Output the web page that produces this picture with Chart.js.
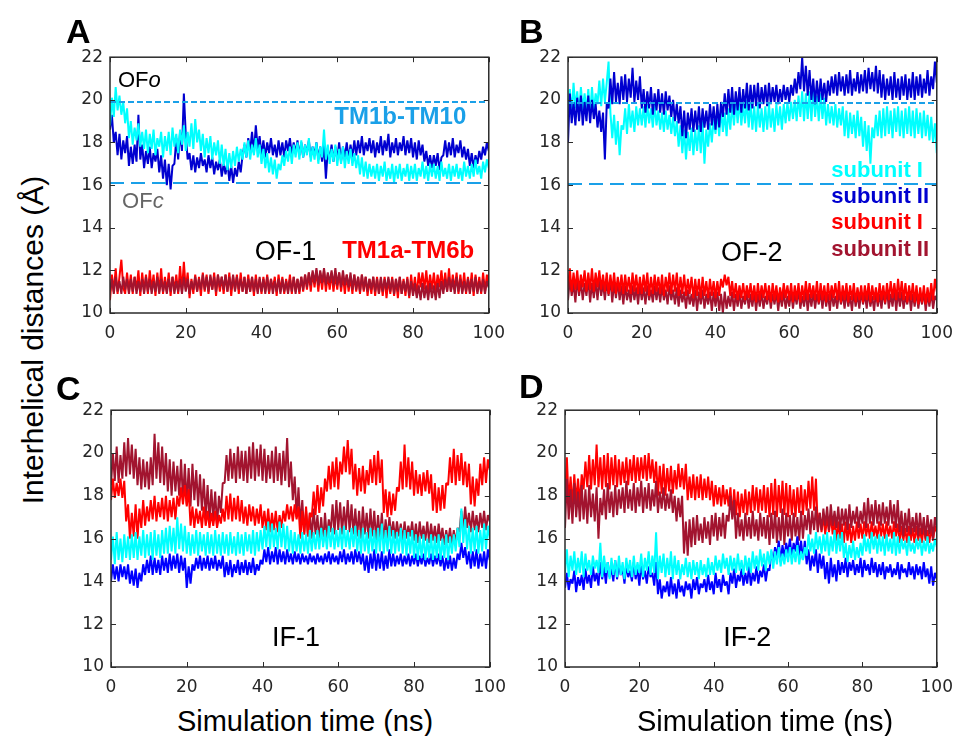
<!DOCTYPE html>
<html>
<head>
<meta charset="utf-8">
<script src="https://cdn.jsdelivr.net/npm/chart.js@4.4.1/dist/chart.umd.min.js"></script>
<style>
  body { margin: 0; background: #fff; }
  #fig { position: relative; width: 963px; height: 736px; overflow: hidden; font-family: "Liberation Sans", Arial, sans-serif; }
  #fig canvas { position: absolute; }
  .letter { position: absolute; font-weight: bold; font-size: 34px; line-height: 1; color: #000; }
  .xtitle { position: absolute; width: 400px; text-align: center; font-size: 29px; line-height: 1; color: #000; white-space: nowrap; }
  .ytitle { position: absolute; width: 420px; height: 30px; left: -177px; top: 325px; text-align: center; font-size: 30px; line-height: 30px; color: #000; white-space: nowrap; transform: rotate(-90deg); }
</style>
</head>
<body>
<div id="fig">
  <canvas id="cA" width="460" height="310" style="left:55px;top:40px"></canvas>
  <canvas id="cB" width="450" height="310" style="left:513px;top:40px"></canvas>
  <canvas id="cC" width="460" height="311" style="left:56px;top:393px"></canvas>
  <canvas id="cD" width="453" height="311" style="left:510px;top:393px"></canvas>
  <div class="letter" style="left:66px;top:14px">A</div>
  <div class="letter" style="left:519px;top:14px">B</div>
  <div class="letter" style="left:56px;top:371px">C</div>
  <div class="letter" style="left:519px;top:369px">D</div>
  <div class="ytitle">Interhelical distances (Å)</div>
  <div class="xtitle" style="left:105px;top:707px">Simulation time (ns)</div>
  <div class="xtitle" style="left:565px;top:707px">Simulation time (ns)</div>
</div>
<script>
// sampling every 0.5 ns, 0..100 ns
const time = Array.from({length: 201}, (_, i) => i * 0.5);
const xTicks = [0, 20, 40, 60, 80, 100];
const yTicks = [10, 12, 14, 16, 18, 20, 22];

// A: OF-1
const aCyan = [
  18.8,20.1,19.2,20.6,19.5,20.2,19.3,19.9,18.9,19.6,
  18.2,19.0,17.9,18.7,18.1,18.9,17.8,18.5,17.7,18.6,
  17.5,18.4,17.7,18.6,17.4,18.2,17.8,18.5,17.3,18.3,
  17.6,18.5,17.4,18.7,17.8,18.4,17.5,18.6,17.9,18.8,
  17.6,18.5,17.8,18.9,17.7,19.1,18.0,18.6,17.6,18.4,
  17.3,18.2,17.5,18.3,17.2,18.0,17.4,18.1,17.0,17.9,
  16.9,17.7,16.7,17.5,16.8,17.6,16.9,17.8,17.1,17.7,
  17.2,18.0,17.3,18.1,17.2,17.9,17.4,18.2,17.3,17.9,
  17.0,17.7,16.8,17.5,16.6,17.3,16.5,17.2,16.3,17.0,
  16.7,17.4,16.9,17.6,17.1,17.8,17.0,17.9,17.3,18.0,
  17.2,18.1,17.3,17.9,17.4,18.2,17.1,17.8,17.2,18.0,
  17.0,17.8,17.3,18.6,17.2,17.9,17.0,17.7,17.1,17.9,
  16.9,17.7,17.0,17.8,16.8,17.6,17.0,17.7,16.9,17.5,
  16.8,17.4,16.5,17.3,16.4,17.1,16.3,17.0,16.4,16.9,
  16.3,17.0,16.2,16.9,16.4,17.1,16.2,16.8,16.3,17.0,
  16.1,16.9,16.3,17.0,16.2,16.8,16.4,17.0,16.2,16.9,
  16.3,17.0,16.2,16.8,16.4,17.1,16.3,16.9,16.2,17.0,
  16.4,17.0,16.3,16.9,16.2,17.1,16.4,16.8,16.3,17.0,
  16.2,16.9,16.4,17.0,16.3,16.8,16.2,17.1,16.4,16.9,
  16.3,17.0,16.4,17.2,16.5,16.9,16.3,17.1,16.6,17.2,
  16.8
];
const aBlue = [
  18.6,19.3,18.0,18.5,17.4,18.4,17.2,18.1,17.5,18.3,
  16.9,17.8,17.0,17.9,17.1,19.3,17.2,17.9,16.8,17.6,
  17.0,17.8,16.8,17.5,17.1,17.7,16.6,17.4,16.3,17.2,
  16.0,17.0,15.8,16.9,17.0,18.2,17.2,18.5,17.6,20.3,
  18.4,17.2,17.5,16.7,17.4,16.6,17.3,16.8,17.5,16.9,
  17.2,16.6,17.4,16.8,17.3,16.5,17.1,16.7,17.2,16.4,
  17.0,16.5,17.1,16.2,16.9,16.1,16.8,16.4,17.1,16.6,
  17.4,17.9,17.3,18.2,17.6,18.5,17.5,18.8,17.7,18.3,
  17.4,18.1,17.3,18.0,17.5,18.2,17.4,17.9,17.3,18.1,
  17.4,18.0,17.3,18.1,17.6,18.2,17.4,18.0,17.5,18.1,
  17.4,18.0,17.3,17.9,17.5,18.1,17.3,17.8,17.4,18.0,
  17.2,17.8,17.1,17.9,16.3,17.7,17.2,17.9,17.1,17.8,
  17.2,18.0,17.1,17.8,17.3,18.0,17.2,17.9,17.3,18.1,
  17.4,18.1,17.5,18.3,17.4,18.0,17.6,18.2,17.5,18.1,
  17.3,18.0,17.5,18.3,17.4,18.1,17.6,18.4,17.3,18.0,
  17.5,18.2,17.4,18.0,17.6,18.3,17.4,18.1,17.5,18.2,
  17.3,18.0,17.2,18.1,17.4,17.9,17.1,17.6,16.9,17.4,
  16.8,17.4,16.9,17.5,16.7,17.3,17.4,18.1,17.3,18.0,
  17.4,18.2,17.3,17.9,17.5,18.1,17.3,17.8,17.2,17.7,
  16.9,17.5,16.8,17.4,17.0,17.6,17.2,17.8,17.4,18.0,
  17.6
];
const aRed = [
  10.6,11.8,11.0,12.1,10.9,11.7,12.5,11.2,10.9,11.9,
  11.0,11.8,10.9,11.7,11.1,12.0,10.8,11.9,11.0,11.8,
  10.9,12.0,11.1,11.8,10.8,11.9,11.0,12.1,10.9,11.7,
  11.0,11.9,10.8,11.7,11.1,11.8,10.9,12.2,11.0,12.4,
  11.1,11.9,10.7,11.6,10.9,11.8,11.0,11.7,10.8,11.9,
  11.0,11.8,10.9,11.7,11.1,11.9,10.8,11.8,11.0,11.7,
  10.9,11.8,11.0,11.9,10.8,11.7,11.1,11.8,10.9,11.9,
  11.0,11.7,10.9,11.8,11.0,11.7,10.8,11.8,11.0,11.6,
  10.9,11.7,11.0,11.8,10.9,11.6,11.1,11.7,10.8,11.8,
  11.0,11.7,10.9,11.6,11.0,11.8,10.9,11.7,11.0,11.6,
  10.9,11.7,11.0,11.8,11.1,11.9,11.0,11.9,11.2,12.0,
  11.0,11.9,11.1,12.0,11.0,11.8,11.1,11.9,11.0,11.8,
  11.1,11.9,11.0,11.8,10.9,11.8,11.0,11.7,10.9,11.8,
  11.0,11.7,10.9,11.8,11.0,11.7,10.8,11.6,10.9,11.7,
  10.8,11.7,10.9,11.6,10.8,11.7,10.7,11.6,10.9,11.7,
  10.8,11.6,10.7,11.7,10.9,11.6,10.8,11.7,10.7,11.8,
  10.9,11.7,10.8,11.9,11.2,11.9,11.1,12.0,11.0,11.8,
  11.1,11.9,11.0,11.8,11.2,12.0,11.1,11.9,11.0,12.1,
  11.0,11.8,11.1,11.9,10.9,11.8,11.0,11.9,10.9,11.7,
  11.0,11.9,10.8,11.8,11.0,11.7,10.9,11.9,11.0,11.8,
  11.2
];
const aMaroon = [
  11.0,11.6,10.9,11.7,11.0,11.5,10.9,11.7,11.1,11.6,
  10.9,11.6,11.0,11.7,10.9,11.5,11.0,11.6,10.9,11.7,
  11.0,11.6,10.9,11.5,11.0,11.7,10.9,11.6,11.0,11.5,
  10.9,11.6,11.0,11.7,10.9,11.5,11.0,11.6,10.9,11.7,
  11.0,11.6,10.9,11.5,11.1,11.7,11.0,11.6,11.1,11.8,
  11.1,11.7,11.0,11.8,11.1,11.7,11.0,11.8,11.2,11.7,
  11.1,11.8,11.0,11.7,11.1,11.8,11.0,11.7,11.1,11.6,
  11.0,11.7,10.9,11.6,11.0,11.7,11.0,11.6,10.9,11.7,
  11.0,11.6,10.9,11.7,11.0,11.6,10.9,11.5,11.0,11.6,
  10.9,11.6,11.0,11.5,10.9,11.6,11.0,11.7,10.9,11.6,
  11.0,11.7,11.1,11.8,11.2,11.9,11.3,12.0,11.4,12.1,
  11.3,12.0,11.4,12.1,11.3,11.9,11.4,12.0,11.3,12.1,
  11.3,11.9,11.2,12.0,11.3,11.8,11.2,11.9,11.1,11.8,
  11.1,11.7,11.0,11.8,11.1,11.7,11.0,11.6,11.1,11.7,
  11.0,11.6,10.9,11.7,11.0,11.6,11.1,11.7,11.0,11.6,
  10.9,11.6,11.0,11.7,10.9,11.5,11.0,11.6,10.8,11.5,
  10.8,11.4,10.7,11.3,10.6,11.4,10.7,11.3,10.6,11.4,
  10.7,11.3,10.6,11.4,10.7,11.5,10.9,11.6,11.0,11.7,
  11.0,11.6,10.9,11.7,11.0,11.6,10.9,11.5,11.0,11.6,
  10.9,11.6,11.0,11.7,10.9,11.5,11.0,11.6,10.9,11.5,
  11.2
];

// B: OF-2
const bCyan = [
  19.4,20.5,19.3,20.8,19.6,20.4,19.3,20.6,19.5,20.3,
  19.4,20.5,19.3,20.6,19.5,20.3,19.8,20.9,19.7,21.0,
  19.9,20.8,21.8,19.4,18.2,19.3,17.9,19.0,17.4,18.8,
  18.6,19.6,18.4,19.8,18.7,19.5,18.5,19.7,18.8,19.6,
  18.8,19.7,18.7,19.8,18.9,19.6,18.7,19.8,18.8,19.5,
  18.6,19.4,18.5,19.5,18.6,19.3,18.4,19.2,18.3,19.0,
  17.8,18.8,17.5,18.6,17.2,18.5,17.6,18.7,17.4,18.6,
  17.6,18.8,17.5,19.0,17.0,18.6,17.8,18.9,18.0,19.1,
  18.4,19.5,18.3,19.6,18.5,19.4,18.3,19.6,18.6,19.8,
  18.8,19.9,18.9,20.0,18.8,19.8,18.9,20.0,18.7,19.9,
  18.6,19.7,18.5,19.8,18.7,19.6,18.5,19.7,18.6,19.8,
  18.7,19.6,18.5,19.8,18.8,19.7,18.6,19.8,18.9,19.9,
  19.0,19.9,19.1,20.0,19.0,20.2,19.2,20.4,19.0,20.3,
  19.1,20.4,19.0,20.5,19.2,20.2,19.0,20.3,19.1,20.1,
  18.8,19.8,18.9,19.7,18.8,19.8,18.7,19.6,18.8,19.7,
  18.3,19.5,18.2,19.4,18.4,19.3,18.2,19.5,18.3,19.2,
  17.8,19.0,17.6,18.8,17.0,18.7,18.2,19.3,18.3,19.5,
  18.2,19.6,18.3,19.7,18.4,19.5,18.2,19.6,18.5,19.7,
  18.3,19.5,18.2,19.6,18.4,19.7,18.3,19.5,18.2,19.6,
  18.4,19.4,18.2,19.5,18.3,19.3,18.1,19.2,18.0,18.9,
  17.5
];
const bBlue = [
  18.0,20.3,18.9,19.9,18.8,20.1,19.0,20.2,18.8,19.9,
  19.0,20.2,18.9,20.0,19.1,19.8,18.7,19.5,18.5,19.4,
  17.2,19.8,19.6,21.0,19.8,21.3,19.9,20.8,19.8,21.1,
  20.0,21.2,19.9,21.0,20.1,21.5,19.9,20.9,20.0,21.1,
  19.6,20.5,19.4,20.4,19.6,20.6,19.3,20.3,19.5,20.5,
  19.4,20.3,19.3,20.4,19.5,20.2,19.2,20.0,19.0,19.8,
  18.9,19.7,18.3,19.5,18.2,19.4,18.6,19.6,18.5,19.5,
  18.6,19.7,18.5,19.6,18.7,19.5,18.6,19.8,18.8,19.7,
  18.6,19.8,18.7,19.9,19.2,20.3,19.3,20.5,19.4,20.6,
  19.3,20.4,19.5,20.6,19.4,20.5,19.6,20.8,19.5,20.7,
  19.6,20.7,19.7,20.8,19.6,20.6,19.8,20.7,19.7,20.8,
  19.8,20.6,19.9,20.7,19.8,20.5,19.9,20.7,20.0,20.6,
  19.9,20.7,20.2,21.0,20.3,21.3,20.5,22.0,20.4,21.6,
  20.2,21.4,20.0,21.0,19.8,20.9,19.9,21.0,20.0,20.8,
  19.9,20.9,20.2,21.1,20.3,21.2,20.2,21.3,20.4,21.1,
  20.2,21.2,20.3,21.4,20.2,21.0,20.4,21.3,20.3,21.2,
  20.4,21.4,20.3,21.5,20.5,21.3,20.4,21.6,20.3,21.4,
  20.1,21.2,20.0,21.0,20.2,21.1,20.0,21.3,20.1,21.0,
  20.0,21.1,20.2,21.2,20.0,21.0,20.1,21.3,20.0,21.1,
  20.2,21.2,20.1,21.0,20.3,21.4,20.2,21.1,20.5,21.8,
  20.8
];
const bRed = [
  11.2,12.1,11.0,11.9,11.1,12.0,11.0,11.8,11.2,12.0,
  11.0,11.9,11.1,12.1,11.0,11.9,11.2,12.0,11.1,11.8,
  11.0,11.9,10.9,11.8,11.0,11.9,10.9,11.7,11.0,11.8,
  10.9,11.8,11.0,11.7,10.9,11.9,11.0,11.8,10.9,11.7,
  10.9,11.8,11.0,11.9,10.8,11.7,10.9,11.8,11.0,11.7,
  10.9,11.8,10.8,11.7,11.0,11.9,10.9,11.8,11.0,11.9,
  10.8,11.7,10.9,11.8,10.8,11.6,10.9,11.7,10.7,11.6,
  10.8,11.6,10.7,11.7,10.8,11.5,10.7,11.6,10.8,11.5,
  10.7,11.5,10.8,11.6,11.2,11.8,11.3,11.7,10.8,11.5,
  10.7,11.4,10.6,11.3,10.7,11.4,10.6,11.3,10.7,11.4,
  10.6,11.3,10.5,11.4,10.6,11.3,10.7,11.4,10.6,11.3,
  10.5,11.4,10.6,11.3,10.5,11.2,10.6,11.4,10.7,11.3,
  10.6,11.4,10.5,11.3,10.6,11.4,10.5,11.3,10.6,11.5,
  10.6,11.4,10.7,11.3,10.6,11.5,10.5,11.4,10.6,11.3,
  10.5,11.4,10.6,11.3,10.7,11.4,10.6,11.5,10.5,11.3,
  10.6,11.4,10.5,11.3,10.6,11.4,10.5,11.2,10.6,11.3,
  10.5,11.3,10.6,11.4,10.5,11.3,10.6,11.2,10.5,11.4,
  10.6,11.3,10.5,11.4,10.6,11.5,10.7,11.4,10.6,11.6,
  10.7,11.5,10.6,11.4,10.5,11.3,10.6,11.4,10.5,11.3,
  10.4,11.2,10.5,11.3,10.4,11.2,10.5,11.4,10.6,11.6,
  11.0
];
const bMaroon = [
  10.6,11.6,10.8,11.4,10.5,11.6,10.8,11.5,10.6,11.4,
  10.8,11.6,10.5,11.4,10.7,11.5,10.6,11.6,10.8,11.4,
  10.6,11.5,10.8,11.6,10.5,11.4,10.7,11.5,10.6,11.3,
  10.4,11.3,10.6,11.1,10.5,11.3,10.6,11.2,10.4,11.3,
  10.6,11.2,10.4,11.3,10.6,11.1,10.5,11.3,10.6,11.2,
  10.5,11.3,10.6,11.1,10.4,11.3,10.6,11.1,10.4,11.2,
  10.3,11.1,10.5,11.0,10.2,11.1,10.4,10.9,10.3,11.1,
  10.1,11.0,10.4,11.1,10.2,10.9,10.4,11.0,10.1,11.0,
  10.3,11.0,10.1,10.9,10.0,11.0,10.2,10.8,10.3,11.0,
  10.1,10.9,10.3,11.0,10.2,10.8,10.4,11.0,10.2,10.9,
  10.3,11.0,10.1,10.9,10.3,11.0,10.2,10.8,10.4,11.0,
  10.2,10.9,10.4,11.0,10.1,10.9,10.3,11.0,10.2,10.8,
  10.3,11.0,10.2,10.9,10.4,11.1,10.2,10.8,10.3,11.0,
  10.1,10.9,10.3,11.0,10.2,10.9,10.4,11.0,10.2,11.0,
  10.3,10.9,10.1,11.0,10.3,10.8,10.2,11.0,10.4,10.9,
  10.2,11.0,10.3,10.8,10.1,11.0,10.3,10.9,10.2,11.0,
  10.4,10.9,10.2,11.0,10.3,10.8,10.1,11.0,10.3,10.9,
  10.2,11.0,10.4,11.1,10.2,10.9,10.3,11.1,10.1,11.0,
  10.3,11.0,10.2,10.8,10.4,11.0,10.1,10.9,10.3,11.0,
  10.2,10.9,10.4,11.0,10.1,10.9,10.3,11.0,10.2,10.8,
  10.6
];

// C: IF-1
const cMaroon = [
  18.5,20.0,18.7,20.3,18.6,19.9,18.8,20.5,18.9,20.7,
  19.0,20.4,18.8,20.2,18.5,19.8,18.3,19.7,18.4,19.6,
  18.3,19.8,18.5,20.9,18.8,20.5,18.6,20.3,18.5,20.0,
  18.2,19.7,18.0,19.6,18.2,19.4,18.0,19.7,17.8,19.5,
  17.6,19.3,17.5,19.5,17.8,19.2,17.5,19.0,17.3,18.8,
  17.0,18.5,16.8,18.3,16.9,18.2,16.6,18.0,17.2,18.6,
  18.6,19.9,18.7,20.2,18.8,20.0,18.6,20.3,18.8,20.1,
  18.7,20.1,18.6,20.3,18.8,20.5,18.7,20.2,18.9,20.4,
  18.7,20.2,18.6,19.9,18.8,20.1,18.6,20.3,18.7,20.0,
  18.5,20.1,18.7,20.7,18.4,19.6,17.8,18.9,17.0,18.4,
  16.6,17.8,16.2,17.3,16.1,17.2,16.0,17.4,16.2,17.1,
  15.9,17.0,15.8,17.2,16.0,16.9,16.3,17.6,16.2,17.8,
  16.4,17.7,16.2,17.5,16.4,17.8,16.3,17.6,16.2,17.4,
  16.1,17.3,16.0,17.5,16.2,17.2,16.0,17.4,16.1,17.3,
  15.9,17.1,16.0,17.2,15.8,16.9,16.0,17.0,16.1,16.8,
  16.0,16.8,16.1,16.7,15.9,16.8,16.0,16.6,16.1,16.8,
  15.9,16.7,15.8,16.8,16.0,16.6,15.9,16.8,15.8,16.7,
  15.9,16.6,15.8,16.7,15.9,16.5,15.7,16.4,15.8,16.5,
  15.7,16.4,15.8,16.5,16.3,17.3,16.4,17.5,16.5,17.2,
  16.3,17.3,16.4,17.1,16.3,17.2,16.5,17.3,16.4,17.1,
  16.8
];
const cRed = [
  17.8,18.8,17.9,18.6,18.0,18.8,17.9,18.7,16.8,17.6,
  16.0,17.2,16.1,17.6,16.0,17.4,16.5,17.8,16.6,17.5,
  16.8,17.8,16.9,18.0,16.8,17.7,17.0,17.9,16.9,18.0,
  16.8,17.8,17.0,17.9,16.9,18.0,17.5,18.4,17.6,18.5,
  17.5,18.3,16.6,17.5,16.5,17.4,16.7,17.3,16.5,17.5,
  16.6,17.3,16.5,17.2,16.6,17.3,16.5,17.1,16.7,17.4,
  16.8,18.0,16.9,18.1,16.8,17.9,16.9,18.0,16.8,17.8,
  16.7,17.5,16.6,17.6,16.8,17.5,16.6,17.4,16.7,17.6,
  16.5,17.3,16.4,17.4,16.3,17.2,16.4,17.3,16.3,17.1,
  16.5,17.3,16.8,17.6,16.9,17.5,16.8,17.6,16.9,17.5,
  16.0,17.3,16.2,17.5,16.1,17.2,17.0,18.2,17.1,18.5,
  17.2,18.4,17.5,18.8,18.2,19.4,18.3,19.6,18.4,19.8,
  18.3,19.6,19.0,20.3,19.1,20.6,19.0,20.2,18.3,19.5,
  18.0,19.3,18.2,19.4,18.1,19.2,18.5,19.7,18.6,19.9,
  18.5,20.1,18.6,19.7,17.2,18.3,17.0,18.2,17.1,18.1,
  17.3,18.4,18.2,19.6,18.3,20.4,18.4,19.8,18.3,19.6,
  18.0,19.2,18.1,19.0,18.0,19.1,18.2,19.2,18.1,19.0,
  17.3,18.6,17.2,18.4,17.3,18.5,17.4,18.6,18.5,19.8,
  18.6,20.2,18.5,19.9,18.7,20.0,18.5,19.6,18.4,19.5,
  17.6,18.9,17.5,18.8,18.0,19.5,18.5,19.8,18.6,19.7,
  19.2
];
const cCyan = [
  15.0,16.1,14.8,16.3,15.0,16.0,14.9,16.2,15.1,16.1,
  15.0,16.2,15.1,16.3,15.0,16.1,15.2,16.4,15.1,16.2,
  15.2,16.3,15.0,16.4,15.2,16.2,15.1,16.4,15.3,16.5,
  15.3,16.6,15.4,16.5,15.3,17.0,15.5,16.7,15.4,16.6,
  15.3,16.3,15.2,16.2,15.3,16.4,15.2,16.3,15.4,16.2,
  15.2,16.3,15.3,16.2,15.2,16.4,15.3,16.2,15.2,16.3,
  15.3,16.2,15.2,16.3,15.3,16.1,15.2,16.3,15.3,16.2,
  15.2,16.3,15.4,16.2,15.3,16.4,15.2,16.3,15.4,16.4,
  15.5,16.6,15.6,16.8,15.5,16.7,15.6,16.5,15.5,16.8,
  15.6,16.7,15.5,16.6,15.4,16.4,15.3,16.3,15.4,16.2,
  15.3,16.3,15.4,16.2,15.3,16.4,15.4,16.3,15.5,16.4,
  15.5,16.5,15.6,16.4,15.5,16.6,15.6,16.5,15.5,16.4,
  15.6,16.5,15.5,16.6,15.6,16.4,15.5,16.5,15.6,16.6,
  15.4,16.4,15.3,16.5,15.4,16.3,15.3,16.5,15.4,16.4,
  15.3,16.5,15.4,16.7,15.3,16.4,15.4,16.6,15.3,16.4,
  15.3,16.3,15.4,16.5,15.3,16.4,15.2,16.3,15.3,16.4,
  15.1,16.2,15.0,16.1,15.1,16.2,15.0,16.0,15.1,16.2,
  15.0,16.1,15.1,16.2,15.0,16.0,15.1,16.2,15.0,16.1,
  15.3,16.2,15.4,16.5,15.6,17.4,15.8,16.9,15.5,16.6,
  15.3,16.5,15.4,16.6,15.3,16.4,15.4,16.7,15.5,16.6,
  16.0
];
const cBlue = [
  14.0,14.8,14.1,14.7,14.0,14.8,14.2,14.7,14.1,14.8,
  13.9,14.5,13.8,14.6,13.7,14.4,14.0,14.8,14.3,15.0,
  14.4,15.2,14.3,15.1,14.4,15.0,14.3,15.2,14.5,15.1,
  14.4,15.3,14.5,15.2,14.6,15.3,14.4,15.2,14.5,15.1,
  13.7,14.7,13.9,14.8,14.5,15.1,14.6,15.2,14.5,15.1,
  14.6,15.2,14.5,15.1,14.6,15.2,14.5,15.0,14.6,15.2,
  14.2,14.9,14.3,15.0,14.2,14.8,14.4,15.0,14.3,14.9,
  14.4,15.0,14.3,14.9,14.4,15.1,14.3,14.8,14.5,15.0,
  14.8,15.5,14.9,15.6,14.8,15.4,14.9,15.6,14.8,15.5,
  14.9,15.4,14.8,15.5,14.9,15.3,14.8,15.4,14.9,15.3,
  14.8,15.3,14.9,15.2,14.8,15.3,14.9,15.2,14.8,15.3,
  14.9,15.2,14.8,15.3,14.9,15.4,14.8,15.3,14.9,15.2,
  14.8,15.4,14.9,15.5,14.8,15.3,14.9,15.4,14.8,15.5,
  14.9,15.4,14.8,15.3,14.5,15.2,14.4,15.3,14.6,15.5,
  14.5,15.3,14.6,15.4,14.5,15.2,14.6,15.5,14.7,15.3,
  14.7,15.2,14.8,15.3,14.7,15.2,14.8,15.3,14.7,15.2,
  14.8,15.3,14.7,15.2,14.8,15.3,14.7,15.1,14.8,15.3,
  14.7,15.2,14.8,15.3,14.7,15.2,14.5,15.1,14.6,15.2,
  14.5,15.1,14.6,15.3,15.0,15.8,15.1,15.6,14.8,15.4,
  14.6,15.4,14.7,15.5,14.6,15.3,14.7,15.4,14.6,15.5,
  15.0
];

// D: IF-2
const dRed = [
  17.8,19.8,17.6,18.9,17.5,19.0,17.7,18.8,17.6,19.0,
  18.3,19.6,18.4,19.9,18.3,19.7,18.5,20.4,18.4,19.8,
  18.3,19.9,18.4,20.0,18.3,19.8,18.5,19.9,18.4,19.7,
  18.5,19.6,18.6,19.8,18.5,19.7,18.7,19.9,18.6,19.8,
  18.7,19.8,18.8,19.9,18.7,20.0,18.8,19.7,18.6,19.6,
  18.0,19.4,18.1,19.5,18.0,19.3,18.2,19.4,18.1,19.2,
  18.3,19.5,18.4,19.3,18.3,19.5,17.8,18.9,17.9,19.0,
  17.8,18.9,17.9,19.0,17.8,18.8,17.9,18.9,17.8,18.7,
  17.5,18.5,17.6,18.4,17.5,18.5,17.6,18.3,17.5,18.4,
  17.0,18.3,17.1,18.2,17.0,18.1,17.2,18.3,17.1,18.2,
  17.2,18.5,17.3,18.4,17.2,18.3,17.3,18.5,17.2,18.4,
  17.0,18.6,17.1,18.8,17.0,18.5,17.2,18.7,17.1,18.6,
  17.0,18.5,17.1,18.3,17.0,18.4,17.2,18.5,17.1,18.3,
  17.3,18.7,17.4,18.9,17.3,18.8,16.4,17.2,16.3,17.1,
  16.2,17.0,16.3,17.1,16.2,16.9,15.9,16.8,16.0,16.7,
  15.8,16.8,15.9,16.7,15.8,16.6,15.9,16.8,16.0,16.7,
  16.0,16.8,16.1,16.7,16.0,16.8,16.1,16.6,16.0,16.8,
  16.1,16.7,16.0,16.8,16.1,16.6,16.0,16.8,16.1,16.7,
  15.8,16.6,15.9,16.5,15.8,16.6,15.9,16.5,15.8,16.6,
  15.9,16.5,15.8,16.6,15.9,16.4,15.8,16.5,15.9,16.6,
  16.3
];
const dMaroon = [
  16.5,18.8,16.9,18.3,16.7,18.6,17.0,18.2,16.8,18.5,
  16.9,18.3,16.7,18.5,17.0,18.1,16.8,18.4,16.0,17.9,
  17.1,18.3,16.9,18.6,17.2,18.2,17.0,18.5,17.1,18.3,
  17.4,18.4,17.2,18.7,17.4,18.3,17.3,18.6,17.2,18.4,
  17.5,18.7,17.2,18.4,17.4,18.6,17.3,18.3,17.5,18.7,
  17.2,18.2,17.4,18.4,17.3,18.1,17.4,18.3,17.2,18.0,
  16.8,17.9,17.0,18.0,15.3,16.8,15.2,16.9,15.6,17.0,
  15.7,17.1,15.9,16.7,15.8,17.0,16.0,16.8,15.7,17.1,
  16.1,17.2,15.9,17.0,16.1,17.2,16.0,17.1,16.8,18.0,
  16.9,17.8,16.0,17.2,16.1,16.9,15.9,17.2,16.1,17.0,
  16.0,17.3,16.1,16.9,15.9,17.2,16.1,17.0,16.0,17.1,
  15.7,17.2,16.0,17.3,15.8,17.0,15.9,17.4,15.7,17.2,
  16.1,17.1,15.9,17.2,16.1,17.0,15.9,17.3,16.0,17.1,
  16.4,17.4,16.2,17.3,16.4,17.5,16.3,17.2,16.4,17.4,
  16.6,17.5,16.4,17.6,16.6,17.3,16.5,17.5,16.4,17.4,
  16.6,17.4,16.4,17.6,16.5,17.3,16.7,17.5,16.5,17.3,
  16.7,17.7,16.5,17.9,16.7,17.6,16.6,17.8,16.7,17.6,
  16.6,17.7,16.7,17.5,16.6,17.8,16.7,17.6,16.5,17.8,
  16.3,17.3,16.1,17.2,16.3,17.4,16.2,17.0,16.3,17.2,
  16.1,17.2,16.2,17.0,16.0,17.1,16.2,16.9,16.0,17.0,
  16.5
];
const dCyan = [
  14.4,15.5,14.2,15.2,14.5,15.4,14.3,15.1,14.4,15.4,
  14.2,15.3,14.5,15.0,14.3,15.2,14.6,15.0,14.4,15.8,
  14.2,15.2,14.4,14.9,14.1,15.1,14.3,15.0,14.2,15.2,
  14.3,14.9,14.1,15.1,14.4,15.0,14.2,15.2,14.3,14.9,
  14.4,15.3,14.2,15.1,14.5,15.4,14.3,15.2,14.4,16.3,
  14.1,15.2,14.4,15.3,14.2,15.1,14.3,15.4,14.1,15.2,
  14.3,15.0,14.1,14.8,14.3,15.1,14.2,14.9,14.1,15.0,
  14.3,14.9,14.1,15.0,14.3,14.8,14.2,15.1,14.3,14.9,
  14.3,15.2,14.5,15.0,14.4,15.3,14.6,15.1,14.3,15.2,
  14.5,15.1,14.4,15.3,14.5,15.0,14.3,15.2,14.5,15.1,
  14.4,15.4,14.6,15.2,14.5,15.5,14.7,15.3,14.5,15.4,
  14.8,15.5,14.6,15.4,14.8,15.6,14.7,15.3,14.8,15.5,
  14.9,15.6,14.8,15.5,14.9,15.7,14.8,15.4,15.0,15.6,
  15.2,16.2,15.4,16.0,15.3,16.3,15.5,16.1,15.3,16.2,
  15.4,16.3,15.2,16.1,15.4,16.4,15.3,16.2,15.4,16.3,
  15.1,15.8,14.9,15.7,15.1,15.9,15.0,15.6,15.1,15.8,
  15.2,16.2,15.4,16.0,15.3,16.3,15.5,16.1,15.3,16.2,
  15.4,16.1,15.2,16.2,15.4,16.0,15.3,16.3,15.2,16.1,
  15.3,16.0,15.5,15.9,15.2,16.1,15.4,15.8,15.3,16.0,
  15.5,16.0,15.2,15.9,15.4,16.1,15.3,15.8,15.4,16.0,
  15.6
];
const dBlue = [
  13.7,14.4,13.6,14.1,13.9,14.5,13.5,14.2,13.8,14.3,
  13.6,14.6,13.9,14.3,13.7,14.7,14.0,14.4,13.8,14.9,
  14.1,14.7,13.9,14.9,14.2,14.6,14.0,15.0,14.1,14.8,
  14.3,14.6,13.9,14.8,14.2,14.5,14.0,14.9,14.1,14.6,
  13.8,14.8,14.1,14.5,13.9,14.7,14.2,14.4,13.8,14.9,
  13.4,14.1,13.2,13.8,13.5,14.0,13.3,14.2,13.4,13.9,
  13.2,14.1,13.5,13.8,13.3,14.0,13.6,13.9,13.2,14.1,
  13.6,14.2,13.4,13.9,13.7,14.1,13.5,14.3,13.6,14.0,
  13.4,14.4,13.7,14.1,13.5,14.3,13.8,14.0,13.4,14.4,
  13.9,14.6,13.7,14.3,14.0,14.6,13.8,14.4,13.9,14.7,
  13.8,14.4,14.0,14.7,13.9,14.5,14.2,14.8,14.0,14.6,
  14.5,15.4,14.9,15.6,15.2,15.9,14.9,15.7,15.1,15.8,
  15.3,16.0,15.1,15.8,15.4,16.1,15.2,15.9,15.0,15.9,
  14.8,15.5,14.5,15.2,14.7,15.5,14.4,15.3,14.6,15.2,
  14.1,14.9,13.9,15.1,14.2,14.8,14.0,15.0,14.3,14.9,
  14.4,15.1,14.2,14.9,14.5,15.0,14.3,14.8,14.4,15.1,
  14.2,15.0,14.5,14.8,14.3,15.1,14.4,14.9,14.2,14.8,
  14.3,14.9,14.1,14.7,14.4,14.8,14.2,14.6,14.3,14.9,
  14.1,14.8,14.4,14.6,14.2,14.9,14.3,14.7,14.1,14.8,
  14.3,14.7,14.1,14.9,14.2,14.6,13.9,14.7,13.8,14.4,
  14.1
];

// OFo / OFc reference distances
const aRefs = [19.9, 16.1];
const bRefs = [19.85, 16.05];

const CYAN = '#00ffff', BLUE_OF = '#0000d0', BLUE_IF = '#0000ff', RED = '#ff0000', MAROON = '#a2142f', DASH = '#1aa0e8';
const tickFont = { family: '"DejaVu Sans", sans-serif', size: 17 };
const tickColor = '#262626';
const textFont = '"Liberation Sans", Arial, sans-serif';

function frame(notes) {
  return {
    id: 'frame',
    afterDraw(chart) {
      const { ctx, chartArea: a } = chart;
      const xs = chart.scales.x, ys = chart.scales.y;
      ctx.save();
      ctx.strokeStyle = '#2b2b2b';
      ctx.lineWidth = 1;
      ctx.beginPath();
      xs.ticks.forEach(t => {
        const p = Math.round(xs.getPixelForValue(t.value)) + 0.5;
        ctx.moveTo(p, a.bottom); ctx.lineTo(p, a.bottom - 5);
        ctx.moveTo(p, a.top); ctx.lineTo(p, a.top + 5);
      });
      ys.ticks.forEach(t => {
        const p = Math.round(ys.getPixelForValue(t.value)) + 0.5;
        ctx.moveTo(a.left, p); ctx.lineTo(a.left + 5, p);
        ctx.moveTo(a.right, p); ctx.lineTo(a.right - 5, p);
      });
      ctx.stroke();
      ctx.lineWidth = 1.5;
      ctx.strokeRect(a.left, a.top, a.right - a.left, a.bottom - a.top);

      ctx.textAlign = 'left';
      ctx.textBaseline = 'alphabetic';
      notes.forEach(n => {
        let px = xs.getPixelForValue(n.t);
        const py = ys.getPixelForValue(n.v);
        ctx.fillStyle = n.color;
        n.parts.forEach(([txt, it]) => {
          ctx.font = (it ? 'italic ' : '') + (n.bold ? 'bold ' : '') + n.size + 'px ' + textFont;
          ctx.fillText(txt, px, py);
          px += ctx.measureText(txt).width;
        });
      });
      ctx.restore();
    }
  };
}

function panel(id, series, refs, notes, padTop, padRight) {
  const datasets = series.map(s => ({
    data: s.values.map((v, i) => ({ x: time[i], y: v })),
    borderColor: s.color,
    borderWidth: 2,
    borderJoinStyle: 'bevel',
    pointRadius: 0,
    order: s.order
  }));
  refs.forEach((r, k) => datasets.push({
    data: [{ x: 0, y: r }, { x: 100, y: r }],
    borderColor: DASH,
    borderWidth: 2,
    borderDash: k === 0 ? [6, 3] : [14, 7],
    pointRadius: 0,
    order: 0
  }));
  new Chart(document.getElementById(id), {
    type: 'line',
    data: { datasets },
    options: {
      responsive: false,
      animation: false,
      events: [],
      layout: { padding: { top: padTop, right: padRight, left: 0, bottom: 0 } },
      plugins: { legend: { display: false }, tooltip: { enabled: false } },
      scales: {
        x: {
          type: 'linear', min: 0, max: 100,
          afterBuildTicks: s => { s.ticks = xTicks.map(v => ({ value: v })); },
          ticks: { color: tickColor, font: tickFont, padding: 10, maxRotation: 0, autoSkip: false },
          grid: { display: false, drawTicks: false },
          border: { display: false },
          afterFit: s => { s.height = 37; }
        },
        y: {
          min: 10, max: 22,
          afterBuildTicks: s => { s.ticks = yTicks.map(v => ({ value: v })); },
          ticks: { color: tickColor, font: tickFont, padding: 7, autoSkip: false },
          grid: { display: false, drawTicks: false },
          border: { display: false },
          afterFit: s => { s.width = 55; }
        }
      }
    },
    plugins: [frame(notes)]
  });
}

panel('cA', [
  { values: aRed, color: RED, order: 6 },
  { values: aMaroon, color: MAROON, order: 5 },
  { values: aBlue, color: BLUE_OF, order: 4 },
  { values: aCyan, color: CYAN, order: 3 }
], aRefs, [
  { t: 2.1, v: 20.61, size: 22, color: '#000', parts: [['OF'], ['o', 1]] },
  { t: 59.2, v: 18.85, size: 24, bold: true, color: DASH, parts: [['TM1b-TM10']] },
  { t: 3.2, v: 14.91, size: 22, color: '#666', parts: [['OF'], ['c', 1]] },
  { t: 38.2, v: 12.5, size: 27, color: '#000', parts: [['OF-1']] },
  { t: 61.3, v: 12.59, size: 24, bold: true, color: RED, parts: [['TM1a-TM6b']] }
], 14, 25);

panel('cB', [
  { values: bMaroon, color: MAROON, order: 6 },
  { values: bRed, color: RED, order: 5 },
  { values: bCyan, color: CYAN, order: 4 },
  { values: bBlue, color: BLUE_OF, order: 3 }
], bRefs, [
  { t: 71.4, v: 16.39, size: 22, bold: true, color: CYAN, parts: [['subunit I']] },
  { t: 71.4, v: 15.14, size: 22, bold: true, color: BLUE_OF, parts: [['subunit II']] },
  { t: 71.4, v: 13.94, size: 22, bold: true, color: RED, parts: [['subunit I']] },
  { t: 71.4, v: 12.69, size: 22, bold: true, color: MAROON, parts: [['subunit II']] },
  { t: 41.5, v: 12.45, size: 27, color: '#000', parts: [['OF-2']] }
], 14, 17);

panel('cC', [
  { values: cMaroon, color: MAROON, order: 6 },
  { values: cRed, color: RED, order: 5 },
  { values: cBlue, color: BLUE_IF, order: 4 },
  { values: cCyan, color: CYAN, order: 3 }
], [], [
  { t: 42.5, v: 10.96, size: 27, color: '#000', parts: [['IF-1']] }
], 14, 26);

panel('cD', [
  { values: dRed, color: RED, order: 6 },
  { values: dMaroon, color: MAROON, order: 5 },
  { values: dBlue, color: BLUE_IF, order: 4 },
  { values: dCyan, color: CYAN, order: 3 }
], [], [
  { t: 42.55, v: 11.0, size: 27, color: '#000', parts: [['IF-2']] }
], 14, 22);
</script>
</body>
</html>
